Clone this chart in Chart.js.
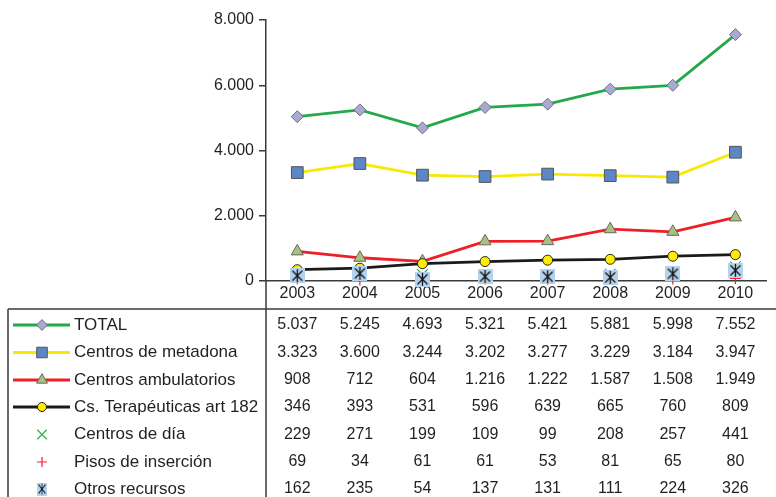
<!DOCTYPE html>
<html>
<head>
<meta charset="utf-8">
<script src="https://cdn.jsdelivr.net/npm/chart.js@4.4.1/dist/chart.umd.min.js"></script>
<style>
  html, body { margin: 0; padding: 0; background: #fff; }
  #wrap { position: relative; width: 776px; height: 497px; }
</style>
</head>
<body>
<div id="wrap"><canvas id="chart"></canvas></div>
<script>
// Data
var years = ['2003', '2004', '2005', '2006', '2007', '2008', '2009', '2010'];
var total = [5037, 5245, 4693, 5321, 5421, 5881, 5998, 7552];
var metadona = [3323, 3600, 3244, 3202, 3277, 3229, 3184, 3947];
var ambulatorios = [908, 712, 604, 1216, 1222, 1587, 1508, 1949];
var terapeuticas = [346, 393, 531, 596, 639, 665, 760, 809];
var centrosDia = [229, 271, 199, 109, 99, 208, 257, 441];
var pisos = [69, 34, 61, 61, 53, 81, 65, 80];
var otros = [162, 235, 54, 137, 131, 111, 224, 326];
var yMin = 0, yMax = 8000, yStep = 2000;

var FONT = '"Liberation Sans", Arial, sans-serif';
var TEXT = '#231f20';
var AXIS = '#3a3a3a';

// thousands with a dot, as in the source
var fmt = function(v){
    return String(v).replace(/\B(?=(\d{3})+(?!\d))/g, '.');
};

// marker for "Otros recursos": light blue box with a black asterisk
var otrosMarker = (function(){
    var c = document.createElement('canvas');
    c.width = 15; c.height = 15;
    var g = c.getContext('2d');
    g.fillStyle = '#b3d3ee';
    g.fillRect(0, 0, 15, 15);
    g.strokeStyle = '#111';
    g.lineWidth = 1.3;
    g.beginPath();
    g.moveTo(2.5, 2.5); g.lineTo(12.5, 12.5);
    g.moveTo(12.5, 2.5); g.lineTo(2.5, 12.5);
    g.moveTo(7.5, 1); g.lineTo(7.5, 14);
    g.stroke();
    return c;
})();

var series = [
    { label: 'TOTAL', data: total, line: '#23a94b', style: 'rectRot', r: 6, fill: '#aaa9d2', edge: '#6e6e7c' },
    { label: 'Centros de metadona', data: metadona, line: '#f7ea00', style: 'rect', r: 8.3, fill: '#5c86c6', edge: '#555' },
    { label: 'Centros ambulatorios', data: ambulatorios, line: '#ee1f26', style: 'triangle', r: 7, fill: '#a9c17d', edge: '#666' },
    { label: 'Cs. Terap\u00e9uticas art 182', data: terapeuticas, line: '#1a1a1a', style: 'circle', r: 5, fill: '#ffec00', edge: '#222' },
    { label: 'Centros de d\u00eda', data: centrosDia, line: null, style: 'crossRot', r: 7.5, fill: '#2db34a', edge: '#2db34a' },
    { label: 'Pisos de inserci\u00f3n', data: pisos, line: null, style: 'cross', r: 5.5, fill: '#ee1f26', edge: '#ee1f26' },
    { label: 'Otros recursos', data: otros, line: null, style: otrosMarker, r: 7.5, fill: '#b3d3ee', edge: '#111' }
];

var isCross = function(s){ return s.style === 'cross' || s.style === 'crossRot'; };

var datasets = series.map(function(s, i){
    return {
        label: s.label,
        data: s.data,
        showLine: !!s.line,
        borderColor: s.line || s.edge,
        borderWidth: 2.8,
        pointStyle: s.style,
        pointRadius: s.r,
        pointBackgroundColor: s.fill,
        pointBorderColor: s.edge,
        pointBorderWidth: isCross(s) ? 1.2 : 1,
        tension: 0,
        clip: false,
        order: series.length - i   // later series drawn on top
    };
});

// Legend + value table under the plot
var rowY = [325, 352.5, 380, 407, 434.5, 462, 489];
var tablePlugin = {
    id: 'dataTable',
    afterDraw: function(chart){
        var ctx = chart.ctx;
        var xs = chart.scales.x;
        var area = chart.chartArea;
        var top = 309;

        ctx.save();
        ctx.strokeStyle = AXIS;
        ctx.lineWidth = 1.5;
        ctx.beginPath();
        ctx.moveTo(8, top); ctx.lineTo(chart.width, top);
        ctx.moveTo(8, top); ctx.lineTo(8, chart.height);
        ctx.moveTo(area.left, area.bottom); ctx.lineTo(area.left, chart.height);
        ctx.stroke();

        ctx.textBaseline = 'middle';

        series.forEach(function(s, r){
            var y = rowY[r];
            if (s.line) {
                ctx.strokeStyle = s.line;
                ctx.lineWidth = 2.8;
                ctx.beginPath();
                ctx.moveTo(13, y); ctx.lineTo(70, y);
                ctx.stroke();
            }
            if (s.style === otrosMarker) {
                ctx.drawImage(otrosMarker, 37, y - 6.5, 10, 13);
            } else {
                ctx.fillStyle = s.fill;
                ctx.strokeStyle = s.edge;
                ctx.lineWidth = isCross(s) ? 1.2 : 1;
                Chart.helpers.drawPoint(ctx, {
                    pointStyle: s.style,
                    radius: s.r * 0.9,
                    borderWidth: ctx.lineWidth,
                    rotation: 0
                }, 42, y);
            }

            ctx.fillStyle = TEXT;
            ctx.font = '17px ' + FONT;
            ctx.textAlign = 'left';
            ctx.fillText(s.label, 74, y);

            ctx.font = '16px ' + FONT;
            ctx.textAlign = 'center';
            s.data.forEach(function(v, i){
                ctx.fillText(fmt(v), xs.getPixelForValue(i), y);
            });
        });
        ctx.restore();
    }
};

var chart = new Chart(document.getElementById('chart'), {
    type: 'line',
    data: { labels: years, datasets: datasets },
    options: {
        responsive: true,
        maintainAspectRatio: false,
        animation: false,
        layout: { padding: { top: 20, right: 0, bottom: 0, left: 0 } },
        plugins: {
            legend: { display: false },
            tooltip: { enabled: false }
        },
        scales: {
            x: {
                offset: true,
                grid: { display: false, drawTicks: false },
                border: { display: true, color: AXIS, width: 1.5 },
                ticks: { color: TEXT, font: { family: FONT, size: 16 }, padding: 3, maxRotation: 0 },
                afterFit: function(scale){ scale.height = 216; }
            },
            y: {
                min: yMin,
                max: yMax,
                grid: { drawOnChartArea: false, drawTicks: true, tickLength: 7, color: AXIS, lineWidth: 1.5 },
                border: { display: true, color: AXIS, width: 1.5 },
                ticks: {
                    stepSize: yStep,
                    color: TEXT,
                    padding: 5,
                    font: { family: FONT, size: 16 },
                    callback: function(v){ return fmt(v); }
                },
                afterFit: function(scale){ scale.width = 266; }
            }
        }
    },
    plugins: [tablePlugin]
});
</script>
</body>
</html>
